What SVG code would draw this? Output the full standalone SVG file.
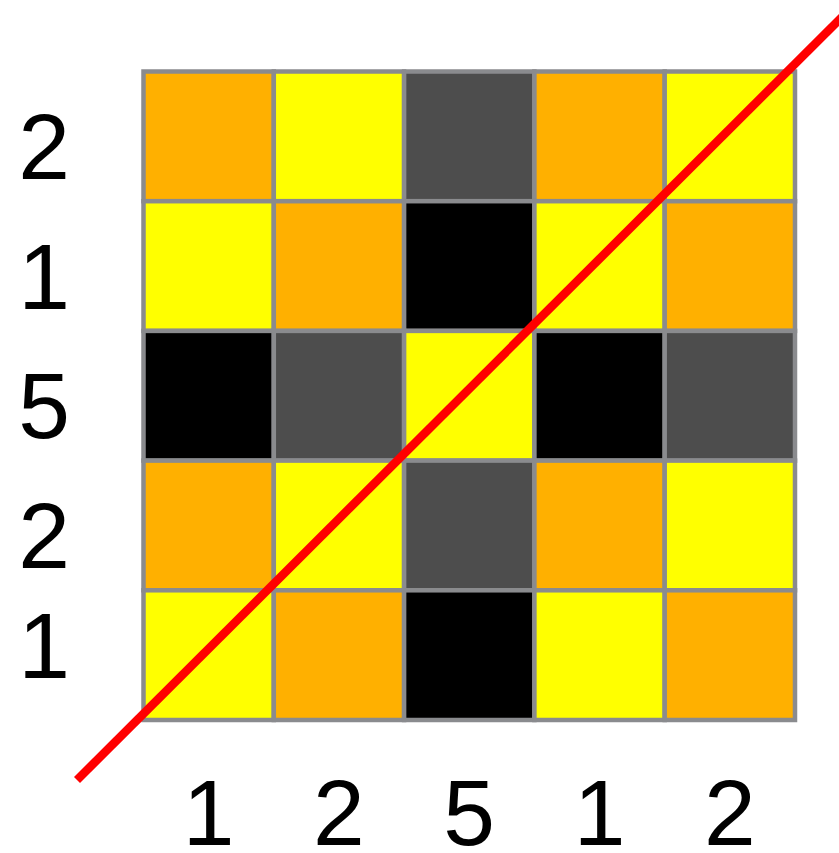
<svg xmlns="http://www.w3.org/2000/svg" width="839" height="853" viewBox="0 0 839 853">
<style>
.c{stroke:#8a8b8e;stroke-width:4.5}
.o{fill:#ffb000}.y{fill:#ffff00}.g{fill:#4d4d4d}.k{fill:#000}
text{font-family:"Liberation Sans",Arial,sans-serif;font-size:93px;fill:#000;text-anchor:middle}
</style>
<rect width="839" height="853" fill="#fff"/>
<g id="grid">
<rect class="c o" x="143.5" y="71.5" width="130.3" height="129.7"/>
<rect class="c y" x="273.8" y="71.5" width="130.3" height="129.7"/>
<rect class="c g" x="404.1" y="71.5" width="130.3" height="129.7"/>
<rect class="c o" x="534.4" y="71.5" width="130.3" height="129.7"/>
<rect class="c y" x="664.7" y="71.5" width="130.3" height="129.7"/>
<rect class="c y" x="143.5" y="201.2" width="130.3" height="129.7"/>
<rect class="c o" x="273.8" y="201.2" width="130.3" height="129.7"/>
<rect class="c k" x="404.1" y="201.2" width="130.3" height="129.7"/>
<rect class="c y" x="534.4" y="201.2" width="130.3" height="129.7"/>
<rect class="c o" x="664.7" y="201.2" width="130.3" height="129.7"/>
<rect class="c k" x="143.5" y="330.9" width="130.3" height="129.7"/>
<rect class="c g" x="273.8" y="330.9" width="130.3" height="129.7"/>
<rect class="c y" x="404.1" y="330.9" width="130.3" height="129.7"/>
<rect class="c k" x="534.4" y="330.9" width="130.3" height="129.7"/>
<rect class="c g" x="664.7" y="330.9" width="130.3" height="129.7"/>
<rect class="c o" x="143.5" y="460.6" width="130.3" height="129.7"/>
<rect class="c y" x="273.8" y="460.6" width="130.3" height="129.7"/>
<rect class="c g" x="404.1" y="460.6" width="130.3" height="129.7"/>
<rect class="c o" x="534.4" y="460.6" width="130.3" height="129.7"/>
<rect class="c y" x="664.7" y="460.6" width="130.3" height="129.7"/>
<rect class="c y" x="143.5" y="590.3" width="130.3" height="129.7"/>
<rect class="c o" x="273.8" y="590.3" width="130.3" height="129.7"/>
<rect class="c k" x="404.1" y="590.3" width="130.3" height="129.7"/>
<rect class="c y" x="534.4" y="590.3" width="130.3" height="129.7"/>
<rect class="c o" x="664.7" y="590.3" width="130.3" height="129.7"/>
</g>
<g id="connectors">
<line x1="77" y1="780" x2="845" y2="14" stroke="#ff0000" stroke-width="8.5"/>
</g>
<g id="row-labels">
<text x="44" y="179">2</text>
<text x="44" y="309">1</text>
<text x="44" y="438">5</text>
<text x="44" y="568">2</text>
<text x="44" y="678">1</text>
</g>
<g id="col-labels">
<text x="208.6" y="845">1</text>
<text x="338.9" y="845">2</text>
<text x="469.2" y="845">5</text>
<text x="599.5" y="845">1</text>
<text x="729.8" y="845">2</text>
</g>
</svg>
